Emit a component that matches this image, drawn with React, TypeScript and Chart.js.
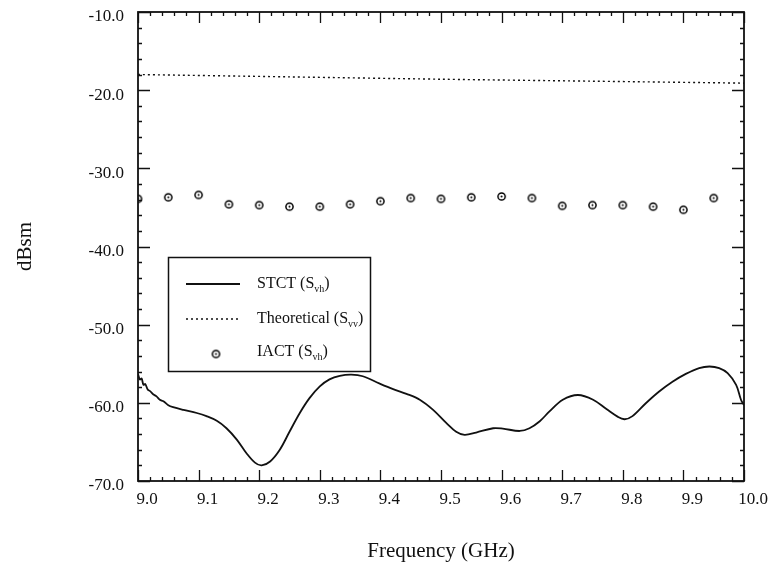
import { useEffect, useRef } from "react";
import { Chart, registerables } from "chart.js";

Chart.register(...registerables);

// ---- data ----
const stctFreq = [
  9.0, 9.003, 9.006, 9.009, 9.012, 9.016, 9.02, 9.025, 9.031, 9.036, 9.042, 9.05, 9.058, 9.075, 9.097,
  9.113, 9.13, 9.146, 9.163, 9.179, 9.193, 9.204, 9.218, 9.234, 9.25, 9.267, 9.283, 9.3, 9.316, 9.333,
  9.352, 9.371, 9.399, 9.421, 9.443, 9.465, 9.487, 9.509, 9.525, 9.539, 9.558, 9.586, 9.602, 9.63,
  9.646, 9.663, 9.679, 9.701, 9.726, 9.751, 9.773, 9.792, 9.803, 9.816, 9.838, 9.86, 9.882, 9.904,
  9.926, 9.943, 9.959, 9.973, 9.987, 9.995, 10.0,
];
const stctDb = [
  -56.3, -57.0, -56.9, -57.7, -57.6, -58.3, -58.5, -58.9, -59.2, -59.6, -59.8, -60.3, -60.55, -60.9, -61.3,
  -61.7, -62.3, -63.25, -64.7, -66.45, -67.65, -68.0, -67.5, -66.0, -63.7, -61.3, -59.4, -57.9, -57.0, -56.55,
  -56.4, -56.6, -57.55, -58.25, -58.85, -59.6, -60.9, -62.6, -63.7, -64.1, -63.8, -63.25, -63.3, -63.6,
  -63.25, -62.35, -61.1, -59.6, -59.0, -59.6, -60.8, -61.8, -62.1, -61.7, -60.05, -58.55, -57.3, -56.3,
  -55.55, -55.35, -55.55, -56.2, -57.7, -59.6, -60.3,
];

const theoFreq = [9.0, 9.25, 9.5, 9.75, 10.0];
const theoDb = [-18.0, -18.3, -18.6, -18.85, -19.1];

const iactFreq = [
  9.0, 9.05, 9.1, 9.15, 9.2, 9.25, 9.3, 9.35, 9.4, 9.45,
  9.5, 9.55, 9.6, 9.65, 9.7, 9.75, 9.8, 9.85, 9.9, 9.95,
];
const iactDb = [
  -33.9, -33.7, -33.4, -34.6, -34.7, -34.9, -34.9, -34.6, -34.2, -33.8,
  -33.9, -33.7, -33.6, -33.8, -34.8, -34.7, -34.7, -34.9, -35.3, -33.8,
];

const xTicks = [9.0, 9.1, 9.2, 9.3, 9.4, 9.5, 9.6, 9.7, 9.8, 9.9, 10.0];
const yTicks = [-70, -60, -50, -40, -30, -20, -10];

const SERIF = "'Liberation Serif', 'DejaVu Serif', serif";

function makeMarker(): HTMLCanvasElement {
  const c = document.createElement("canvas");
  c.width = 11;
  c.height = 11;
  const g = c.getContext("2d")!;
  g.strokeStyle = "#000";
  g.lineWidth = 1.5;
  g.beginPath();
  g.arc(5.5, 5.5, 3.6, 0, Math.PI * 2);
  g.stroke();
  g.fillStyle = "#000";
  g.beginPath();
  g.arc(5.5, 5.5, 1.0, 0, Math.PI * 2);
  g.fill();
  return c;
}

function drawLabel(ctx: CanvasRenderingContext2D, x: number, y: number, main: string, sub: string) {
  ctx.font = `16px ${SERIF}`;
  ctx.textBaseline = "middle";
  ctx.textAlign = "left";
  ctx.fillText(main, x, y);
  let w = ctx.measureText(main).width;
  ctx.font = `10px ${SERIF}`;
  ctx.fillText(sub, x + w, y + 5);
  w += ctx.measureText(sub).width;
  ctx.font = `16px ${SERIF}`;
  ctx.fillText(")", x + w, y);
}

export default function App() {
  const ref = useRef<HTMLCanvasElement | null>(null);

  useEffect(() => {
    const canvas = ref.current!;
    const marker = makeMarker();

    const framePlugin = {
      id: "frameTicks",
      afterDatasetsDraw(chart: any) {
        const { ctx, chartArea: a, scales } = chart;
        const xs = scales.x;
        const ys = scales.y;
        ctx.save();
        ctx.strokeStyle = "#111";
        ctx.lineWidth = 1.8;
        ctx.strokeRect(a.left, a.top, a.right - a.left, a.bottom - a.top);
        ctx.lineWidth = 1.3;
        ctx.beginPath();
        for (let i = 0; i <= 50; i++) {
          const v = 9 + i * 0.02;
          const px = Math.round(xs.getPixelForValue(v)) + 0.5;
          const len = i % 5 === 0 ? 11 : 4;
          ctx.moveTo(px, a.bottom);
          ctx.lineTo(px, a.bottom - len);
          ctx.moveTo(px, a.top);
          ctx.lineTo(px, a.top + len);
        }
        for (let i = 0; i <= 30; i++) {
          const v = -70 + i * 2;
          const py = Math.round(ys.getPixelForValue(v)) + 0.5;
          const len = i % 5 === 0 ? 12 : 4;
          ctx.moveTo(a.left, py);
          ctx.lineTo(a.left + len, py);
          ctx.moveTo(a.right, py);
          ctx.lineTo(a.right - len, py);
        }
        ctx.stroke();

        // legend
        const bx = 168.5, by = 257.5, bw = 202, bh = 114;
        ctx.fillStyle = "#fff";
        ctx.fillRect(bx, by, bw, bh);
        ctx.lineWidth = 1.5;
        ctx.strokeRect(bx, by, bw, bh);
        ctx.fillStyle = "#111";
        // row 1
        ctx.lineWidth = 1.8;
        ctx.setLineDash([]);
        ctx.beginPath();
        ctx.moveTo(186, 284);
        ctx.lineTo(240, 284);
        ctx.stroke();
        drawLabel(ctx, 257, 284, "STCT (S", "vh");
        // row 2
        ctx.lineWidth = 1.4;
        ctx.setLineDash([2, 3]);
        ctx.beginPath();
        ctx.moveTo(186, 319);
        ctx.lineTo(240, 319);
        ctx.stroke();
        ctx.setLineDash([]);
        drawLabel(ctx, 257, 319, "Theoretical (S", "vv");
        // row 3
        ctx.drawImage(marker, 216 - 5.5, 354 - 5.5);
        drawLabel(ctx, 257, 352, "IACT (S", "vh");
        ctx.restore();
      },
    };

    const chart = new Chart(canvas, {
      type: "scatter",
      data: {
        datasets: [
          {
            label: "STCT (Svh)",
            data: stctFreq.map((f, i) => ({ x: f, y: stctDb[i] })),
            showLine: true,
            borderColor: "#111",
            borderWidth: 1.8,
            pointRadius: 0,
            tension: 0.35,
            fill: false,
          },
          {
            label: "Theoretical (Svv)",
            data: theoFreq.map((f, i) => ({ x: f, y: theoDb[i] })),
            showLine: true,
            borderColor: "#111",
            borderWidth: 1.4,
            borderDash: [2, 3],
            pointRadius: 0,
            tension: 0.3,
            fill: false,
          },
          {
            label: "IACT (Svh)",
            data: iactFreq.map((f, i) => ({ x: f, y: iactDb[i] })),
            showLine: false,
            pointStyle: marker as any,
            pointRadius: 4,
            clip: 0 as any,
          },
        ],
      },
      options: {
        responsive: false,
        animation: false,
        devicePixelRatio: 1,
        layout: { padding: { left: 0, top: 12, right: 27, bottom: 0 } },
        plugins: {
          legend: { display: false },
          tooltip: { enabled: false },
        },
        scales: {
          x: {
            type: "linear",
            min: 9.0,
            max: 10.0,
            grid: { display: false, drawTicks: false },
            border: { display: false },
            afterBuildTicks: (s: any) => {
              s.ticks = xTicks.map((v) => ({ value: v }));
            },
            afterFit: (s: any) => {
              s.height = 83;
              s.paddingLeft = 0;
              s.paddingRight = 0;
            },
            ticks: {
              padding: 8,
              labelOffset: 9,
              maxRotation: 0,
              autoSkip: false,
              color: "#111",
              font: { family: SERIF, size: 17 },
              callback: (v: any) => Number(v).toFixed(1),
            },
            title: {
              display: true,
              text: "Frequency (GHz)",
              color: "#111",
              font: { family: SERIF, size: 21 },
              padding: { top: 0, bottom: 0 },
            },
          },
          y: {
            type: "linear",
            min: -70,
            max: -10,
            grid: { display: false, drawTicks: false },
            border: { display: false },
            afterBuildTicks: (s: any) => {
              s.ticks = yTicks.map((v) => ({ value: v }));
            },
            afterFit: (s: any) => {
              s.width = 138;
              s.paddingTop = 0;
              s.paddingBottom = 0;
            },
            ticks: {
              padding: 14,
              labelOffset: 5,
              autoSkip: false,
              color: "#111",
              font: { family: SERIF, size: 17 },
              callback: (v: any) => Number(v).toFixed(1),
            },
            title: {
              display: true,
              text: "dBsm",
              color: "#111",
              font: { family: SERIF, size: 21 },
              padding: { top: 13, bottom: 0 },
            },
          },
        },
      },
      plugins: [framePlugin],
    } as any);

    return () => chart.destroy();
  }, []);

  return (
    <div style={{ position: "fixed", left: 0, top: 0, width: 771, height: 564, background: "#fff" }}>
      <canvas ref={ref} width={771} height={564} style={{ display: "block" }} />
    </div>
  );
}
